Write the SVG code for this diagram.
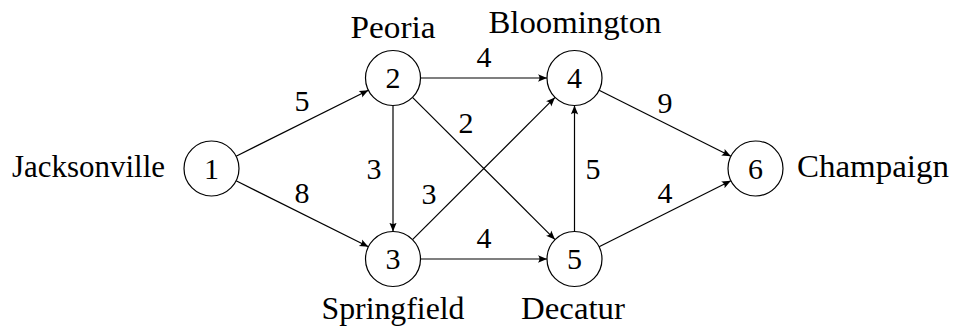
<svg xmlns="http://www.w3.org/2000/svg" width="953" height="327" viewBox="0 0 953 327" font-family="'Liberation Serif', 'DejaVu Serif', serif">
  <style>
    text { fill: #000000; }
    .node circle { fill: #ffffff; stroke: #000000; stroke-width: 1.2; }
    .num { font-size: 30px; text-anchor: middle; }
    .city { font-size: 31px; }
    .edges line { stroke: #000000; stroke-width: 1.2; marker-end: url(#arrow); }
    .weights text { font-size: 30px; text-anchor: middle; }
  </style>
  <defs>
    <marker id="arrow" markerUnits="userSpaceOnUse" markerWidth="12" markerHeight="10" refX="9" refY="4" orient="auto" viewBox="0 0 12 10">
      <path d="M0,0.3 Q3,4 0,7.7 L9,4 Z" fill="#000000"/>
    </marker>
  </defs>

  <rect width="953" height="327" fill="#ffffff"/>

  <!-- directed edges between cities -->
  <g id="edges" class="edges">
    <line x1="236.1" y1="156.2" x2="368.4" y2="90.3"/>
    <line x1="236.1" y1="180.8" x2="368.4" y2="246.7"/>
    <line x1="420.5" y1="78" x2="547" y2="78"/>
    <line x1="393" y1="105.5" x2="393" y2="231.5"/>
    <line x1="412.5" y1="97.4" x2="555.0" y2="239.6"/>
    <line x1="412.5" y1="239.6" x2="555.0" y2="97.4"/>
    <line x1="420.5" y1="259" x2="547" y2="259"/>
    <line x1="574.5" y1="231.5" x2="574.5" y2="105.5"/>
    <line x1="599.1" y1="90.3" x2="730.9" y2="156.2"/>
    <line x1="599.1" y1="246.7" x2="730.9" y2="180.8"/>
  </g>

  <!-- edge weights -->
  <g id="weights" class="weights">
    <text x="302" y="111">5</text>
    <text x="302" y="203">8</text>
    <text x="374" y="179">3</text>
    <text x="429" y="204">3</text>
    <text x="484" y="67">4</text>
    <text x="466" y="132.5">2</text>
    <text x="484" y="248">4</text>
    <text x="593" y="179">5</text>
    <text x="665" y="113">9</text>
    <text x="665" y="203">4</text>
  </g>

  <!-- city nodes -->
  <g id="node1" class="node">
    <circle cx="211.5" cy="168.5" r="27.5"/>
    <text class="num" x="211.5" y="178.5">1</text>
    <text class="city" x="165" y="177" text-anchor="end" textLength="153" lengthAdjust="spacingAndGlyphs">Jacksonville</text>
  </g>
  <g id="node2" class="node">
    <circle cx="393" cy="78" r="27.5"/>
    <text class="num" x="393" y="88">2</text>
    <text class="city" x="393" y="38" text-anchor="middle" textLength="85" lengthAdjust="spacingAndGlyphs">Peoria</text>
  </g>
  <g id="node3" class="node">
    <circle cx="393" cy="259" r="27.5"/>
    <text class="num" x="393" y="269">3</text>
    <text class="city" x="393" y="319" text-anchor="middle" textLength="143" lengthAdjust="spacingAndGlyphs">Springfield</text>
  </g>
  <g id="node4" class="node">
    <circle cx="574.5" cy="78" r="27.5"/>
    <text class="num" x="574.5" y="88">4</text>
    <text class="city" x="575" y="33" text-anchor="middle" textLength="173" lengthAdjust="spacingAndGlyphs">Bloomington</text>
  </g>
  <g id="node5" class="node">
    <circle cx="574.5" cy="259" r="27.5"/>
    <text class="num" x="574.5" y="269">5</text>
    <text class="city" x="573" y="319" text-anchor="middle" textLength="104" lengthAdjust="spacingAndGlyphs">Decatur</text>
  </g>
  <g id="node6" class="node">
    <circle cx="755.5" cy="168.5" r="27.5"/>
    <text class="num" x="755.5" y="178.5">6</text>
    <text class="city" x="797" y="177" textLength="152" lengthAdjust="spacingAndGlyphs">Champaign</text>
  </g>
</svg>
